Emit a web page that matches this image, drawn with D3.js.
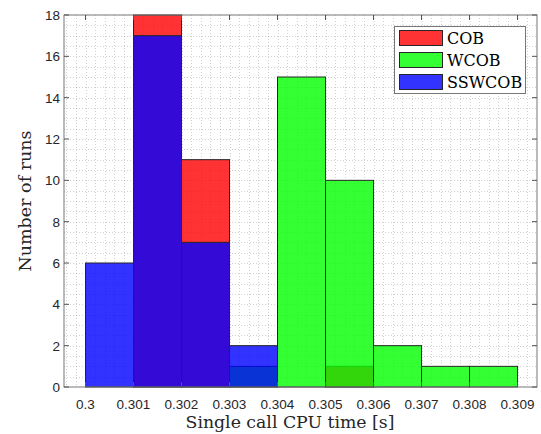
<!DOCTYPE html>
<html><head><meta charset="utf-8">
<script src="https://cdn.jsdelivr.net/npm/d3@7"></script>
<style>body{margin:0;background:#fff}svg{display:block}</style>
</head><body>
<svg id="c" width="541" height="434"></svg>
<script>
const binEdges = [0.300,0.301,0.302,0.303,0.304,0.305,0.306,0.307,0.308,0.309];
const seriesNames = ["COB","WCOB","SSWCOB"];
const seriesColors = ["#ff0000","#00ff00","#0000ff"];
const cob    = [0,18,11,0,0,1,0,0,0];
const wcob   = [0,0,0,1,15,10,2,1,1];
const sswcob = [6,17,7,2,0,0,0,0,0];
const xTicks = [0.300,0.301,0.302,0.303,0.304,0.305,0.306,0.307,0.308,0.309];
const xTickLabels = ["0.3","0.301","0.302","0.303","0.304","0.305","0.306","0.307","0.308","0.309"];
const yTicks = [0,2,4,6,8,10,12,14,16,18];
const xLabel = "Single call CPU time [s]";
const yLabel = "Number of runs";

const series = [cob, wcob, sswcob];
const L=64, R=537, T=15, B=387;
const svg = d3.select("#c");
const x = d3.scaleLinear().domain([0.299552,0.309406]).range([L,R]);
const y = d3.scaleLinear().domain([0,18]).range([B,T]);

// grid
const g = svg.append("g");
const xMinor = d3.range(0,50).map(i=>0.2996+i*0.0002).filter(v=>x(v)>L+0.5&&x(v)<R-0.5);
const yMinor = d3.range(0,37).map(i=>i*0.5).filter(v=>y(v)<B-0.5&&y(v)>T+0.5);
g.selectAll(".vx").data(xMinor).join("line")
  .attr("x1",d=>Math.round(x(d))+0.5).attr("x2",d=>Math.round(x(d))+0.5).attr("y1",T).attr("y2",B)
  .attr("stroke","#000").attr("stroke-opacity",0.18).attr("stroke-dasharray","1,2");
g.selectAll(".hy").data(yMinor).join("line")
  .attr("y1",d=>Math.round(y(d))+0.5).attr("y2",d=>Math.round(y(d))+0.5).attr("x1",L).attr("x2",R)
  .attr("stroke","#000").attr("stroke-opacity",0.18).attr("stroke-dasharray","1,2");

// bars
series.forEach((vals,si)=>{
  const data = vals.map((v,i)=>({v,x0:binEdges[i],x1:binEdges[i+1]})).filter(d=>d.v>0);
  svg.append("g").selectAll("rect").data(data).join("rect")
    .attr("x",d=>x(d.x0)).attr("width",d=>x(d.x1)-x(d.x0))
    .attr("y",d=>y(d.v)).attr("height",d=>y(0)-y(d.v))
    .attr("fill",seriesColors[si]).attr("fill-opacity",0.8)
    .attr("stroke","#262626").attr("stroke-width",1);
});

// axes box
svg.append("rect").attr("x",L).attr("y",T).attr("width",R-L).attr("height",B-T)
  .attr("fill","none").attr("stroke","#777").attr("stroke-width",1);

// ticks
const tk = svg.append("g").attr("stroke","#555").attr("stroke-width",1);
xTicks.forEach(t=>{
  const px = x(t);
  tk.append("line").attr("x1",px).attr("x2",px).attr("y1",B).attr("y2",B-5);
  tk.append("line").attr("x1",px).attr("x2",px).attr("y1",T).attr("y2",T+5);
});
yTicks.forEach(t=>{
  const py = y(t);
  tk.append("line").attr("y1",py).attr("y2",py).attr("x1",L).attr("x2",L+5);
  tk.append("line").attr("y1",py).attr("y2",py).attr("x1",R).attr("x2",R-5);
});

// tick labels
svg.append("g").selectAll("text").data(xTicks).join("text")
  .attr("x",d=>x(d)).attr("y",409).attr("text-anchor","middle")
  .attr("font-family","Liberation Sans, Arial, sans-serif").attr("font-size",13.5).attr("fill","#262626")
  .text((d,i)=>xTickLabels[i]);
svg.append("g").selectAll("text").data(yTicks).join("text")
  .attr("x",60).attr("y",d=>y(d)).attr("dy","0.36em").attr("text-anchor","end")
  .attr("font-family","Liberation Sans, Arial, sans-serif").attr("font-size",13.5).attr("fill","#262626")
  .text(d=>d);

// axis labels
svg.append("text").attr("x",290).attr("y",428).attr("text-anchor","middle")
  .attr("font-family","DejaVu Serif, serif").attr("font-size",17.3).attr("fill","#262626").text(xLabel);
svg.append("text").attr("transform",`translate(31,201) rotate(-90)`).attr("text-anchor","middle")
  .attr("font-family","DejaVu Serif, serif").attr("font-size",17.5).attr("fill","#262626").text(yLabel);

// legend
const lg = svg.append("g");
lg.append("rect").attr("x",394.5).attr("y",26.5).attr("width",131).attr("height",67)
  .attr("fill","#fff").attr("stroke","#777").attr("stroke-width",1);
seriesNames.forEach((n,i)=>{
  const yy = 30 + i*22;
  lg.append("rect").attr("x",399.5).attr("y",yy+0.5).attr("width",43).attr("height",15)
    .attr("fill",seriesColors[i]).attr("fill-opacity",0.8).attr("stroke","#262626").attr("stroke-width",1);
  lg.append("text").attr("x",447).attr("y",yy+8).attr("dy","0.36em")
    .attr("font-family","DejaVu Serif, serif").attr("font-size",16).attr("fill","#000").text(n);
});
</script>
</body></html>
